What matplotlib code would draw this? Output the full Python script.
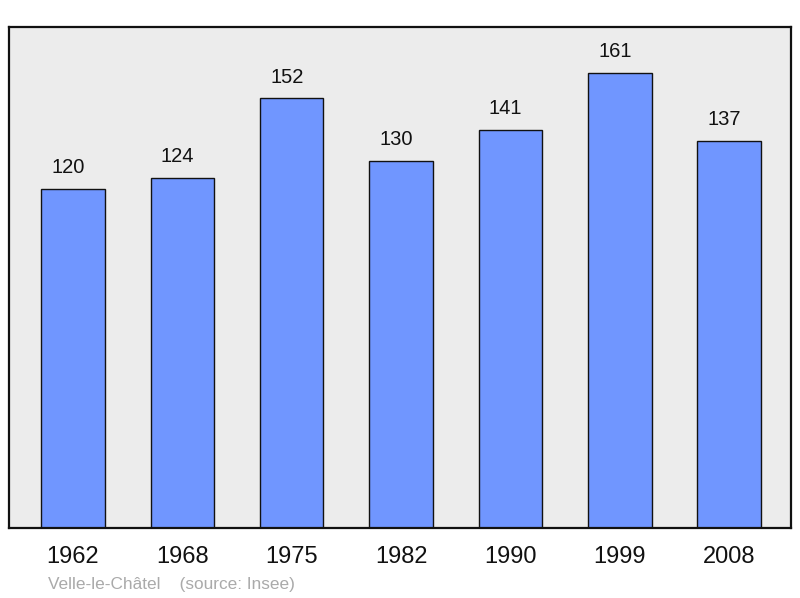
import matplotlib.pyplot as plt

# population data
years = ['1962', '1968', '1975', '1982', '1990', '1999', '2008']
population = [120, 124, 152, 130, 141, 161, 137]

plt.rcParams['font.family'] = ['Liberation Sans', 'DejaVu Sans']

fig = plt.figure(figsize=(8, 5.98), dpi=100)
ax = fig.add_axes([9 / 800, 70 / 598, 782 / 800, 501 / 598])
ax.set_facecolor('#ececec')

x = range(len(years))
bars = ax.bar(x, population, width=0.58, color='#7096ff',
              edgecolor='#111111', linewidth=1.0, zorder=2)

for xi, v in zip(x, population):
    ax.annotate(str(v), (xi, v), xytext=(-3.6, 11.5), textcoords='offset points',
                ha='center', va='baseline', fontsize=14.5, color='#111111')

ax.set_xlim(-0.585, 6.565)
ax.set_ylim(0, 177.3)
ax.set_xticks(list(x))
ax.set_xticklabels(years, fontsize=17, color='#111111')
ax.tick_params(axis='x', length=0, pad=13)
ax.set_yticks([])
for s in ax.spines.values():
    s.set_linewidth(1.6)
    s.set_color('#111111')

fig.text(48 / 800, 1 - 584 / 598, 'Velle-le-Châtel    (source: Insee)',
         fontsize=12.4, color='#aaaaaa', ha='left', va='center')

fig.savefig('out.png', dpi=100)
